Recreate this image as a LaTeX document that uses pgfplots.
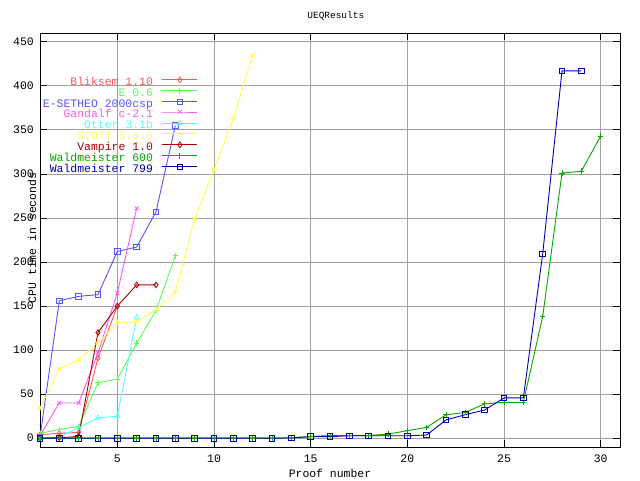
\documentclass[border=0pt]{standalone}
\usepackage{fontspec}
\setmainfont{Liberation Mono}
\usepackage{pgfplots}
\pgfplotsset{compat=1.18}
\pgfdeclarelayer{legendbg}
\pgfplotsset{layers/mylayers/.define layer set={axis background,axis grid,legendbg,axis ticks,axis lines,axis tick labels,pre main,main,axis descriptions,axis foreground}{}}
\definecolor{cBl}{HTML}{FF5555}
\definecolor{cE}{HTML}{55FF55}
\definecolor{cES}{HTML}{5555FF}
\definecolor{cGa}{HTML}{FF55FF}
\definecolor{cOt}{HTML}{55FFFF}
\definecolor{cSc}{HTML}{FFFF55}
\definecolor{cVa}{HTML}{AA0000}
\definecolor{cWs}{HTML}{00AA00}
\definecolor{cWn}{HTML}{0000AA}
\definecolor{gridgray}{HTML}{A0A0A0}
\begin{document}
\begin{tikzpicture}
\path (0,0) rectangle (640bp,480bp);
\begin{axis}[
 set layers=mylayers,
 at={(40bp,33bp)}, anchor=south west,
 scale only axis, width=580bp, height=414bp,
 xmin=1, xmax=31, ymin=-10, ymax=460,
 xtick={5,10,...,30}, ytick={0,50,...,450},
 tick pos=both, major tick length=7bp,
 tick style={black, line width=0.8bp},
 axis line style={black, line width=1bp},
 grid=major, major grid style={color=gridgray, line width=0.8bp},
 font=\fontsize{11.5}{13}\selectfont,
 /pgf/number format/assume math mode=true,
 xticklabel style={anchor=center, yshift=-12bp},
 yticklabel style={anchor=east, inner sep=0pt, xshift=-6bp},
 title={UEQResults},
 title style={font=\fontsize{9.5}{11}\selectfont, at={(axis description cs:0.51,1)}, anchor=center, yshift=11bp},
 xlabel={Proof number},
 xlabel style={at={(axis description cs:0.5,0)}, anchor=center, yshift=-26bp},
 ylabel={CPU time in seconds},
 ylabel style={at={(axis description cs:-0.0138,0.505)}, anchor=center},
 legend style={draw=none, fill=none, at={(axis description cs:0.2724,0.894)}, anchor=north east, inner sep=0pt, row sep=-0.45bp, nodes={inner sep=0pt, text height=7.5bp, text depth=2.75bp}},
 legend cell align=right, legend plot pos=right,
 legend image code/.code={\path (0bp,0bp); \draw[mark repeat=2,mark phase=2,#1] plot coordinates {(9bp,3.5bp) (26.5bp,3.5bp) (44bp,3.5bp)};},
 every axis plot/.append style={line width=0.9bp, mark size=2.8bp, mark options={solid, line width=0.8bp}},
]
\addplot[forget plot, on layer=legendbg, draw=none, fill=white, mark=none] coordinates {(1.05,297.5)(9.28,297.5)(9.28,414.5)(1.05,414.5)} -- cycle;
\addplot[color=cBl, mark=diamond] coordinates {(1,4)(2,5.5)(3,6.6)(4,91)(5,150)};
\addlegendentry{\textcolor{cBl}{Bliksem 1.10}}
\addplot[color=cE, mark=+] coordinates {(1,5.5)(2,10)(3,13)(4,63)(5,67)(6,108)(7,145)(8,207)};
\addlegendentry{\textcolor{cE}{E 0.6}}
\addplot[color=cES, mark=square] coordinates {(1,1.5)(2,156)(3,161)(4,163)(5,212)(6,217)(7,257)(8,355)};
\addlegendentry{\textcolor{cES}{E-SETHEO 2000csp}}
\addplot[color=cGa, mark=x] coordinates {(1,3)(2,40)(3,40)(4,97)(5,165)(6,261)};
\addlegendentry{\textcolor{cGa}{Gandalf c-2.1}}
\addplot[color=cOt, mark=triangle] coordinates {(1,0)(2,1)(3,12)(4,23)(5,25)(6,137)};
\addlegendentry{\textcolor{cOt}{Otter 3.1b}}
\addplot[color=cSc, mark=asterisk] coordinates {(1,34)(2,79)(3,89)(4,108)(5,131)(6,132)(7,146)(8,166)(9,249)(10,305)(11,363)(12,435)};
\addlegendentry{\textcolor{cSc}{SCOTT 5.0.0}}
\addplot[color=cVa, mark=diamond] coordinates {(1,0)(2,0.5)(3,2)(4,120)(5,150)(6,174)(7,174)};
\addlegendentry{\textcolor{cVa}{Vampire 1.0}}
\addplot[color=cWs, mark=+] coordinates {(1,0)(2,0)(3,0)(4,0)(5,0)(6,0)(7,0)(8,0)(9,0)(10,0)(11,0)(12,0)(13,0)(14,0.5)(15,2)(16,3)(17,3)(18,3)(19,4.7)(20,8.5)(21,12.3)(22,26.5)(23,29.3)(24,39)(25,40.7)(26,40.7)(27,138)(28,301)(29,303)(30,343)};
\addlegendentry{\textcolor{cWs}{Waldmeister 600}}
\addplot[color=cWn, mark=square] coordinates {(1,0)(2,0)(3,0)(4,0)(5,0)(6,0)(7,0)(8,0)(9,0)(10,0)(11,0)(12,0)(13,0)(14,0.3)(15,1.7)(16,1.7)(17,2.8)(18,2.8)(19,2.8)(20,2.8)(21,3.6)(22,20.7)(23,26.7)(24,32)(25,45.7)(26,45.7)(27,209)(28,417)(29,417)};
\addlegendentry{\textcolor{cWn}{Waldmeister 799}}
\end{axis}
\end{tikzpicture}
\end{document}
